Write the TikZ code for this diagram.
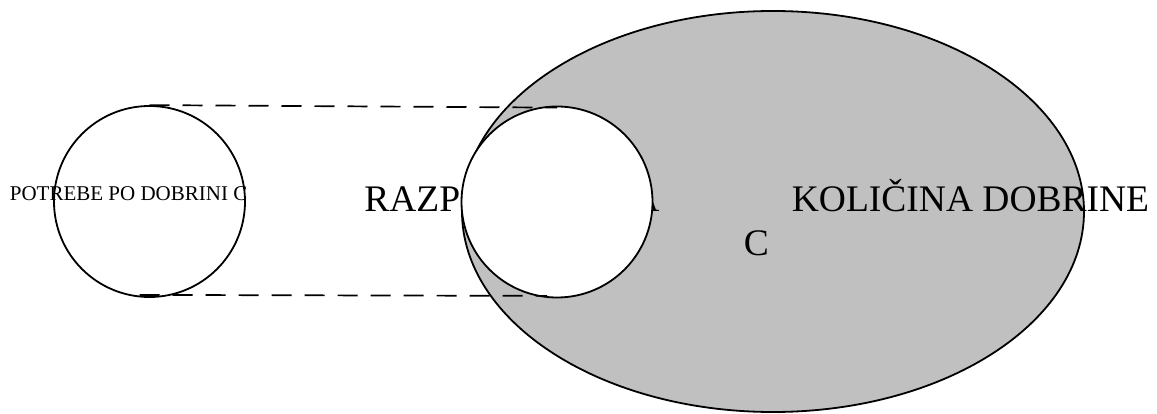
\documentclass[tikz,border=0pt]{standalone}
\usepackage{fontspec}
\setmainfont{Liberation Serif}
\usetikzlibrary{shapes.geometric,positioning}
\definecolor{supplygray}{HTML}{C0C0C0}

\begin{document}
\begin{tikzpicture}[x=1pt,y=-1pt,line width=1.8pt,
    set/.style={circle,draw,inner sep=0pt,minimum size=191pt},
    big/.style={font=\fontsize{37.5}{40}\selectfont,inner sep=0pt,anchor=base west},
    small/.style={font=\fontsize{21}{24}\selectfont,inner sep=0pt,anchor=base west},
    link/.style={line width=1.7pt,dash pattern=on 20pt off 13pt}]
    \useasboundingbox (0,0) rectangle (1157,414);
    \node[ellipse,draw,fill=supplygray,inner sep=0pt,minimum width=622pt,minimum height=401pt] (amount) at (773,211.5) {};
    \node[big] (razp) at (363.5,212) {RAZPOLOŽLJIVA};
    \node[set,fill=white] (supply) at (557,202) {};
    \node[big] (kol) at (791,212) {KOLIČINA DOBRINE};
    \node[big] (c) at (743,255) {C};
    \node[set] (need) at (149.5,201.5) {};
    \node[small] (potrebe) at (9,200.5) {POTREBE PO DOBRINI C};

    \draw[link] (need.north) -- ([yshift=-2pt]supply.north);
    \draw[link] ([xshift=-10pt,yshift=3pt]need.south) -- ([xshift=-10pt,yshift=2.5pt]supply.south);
\end{tikzpicture}
\end{document}
